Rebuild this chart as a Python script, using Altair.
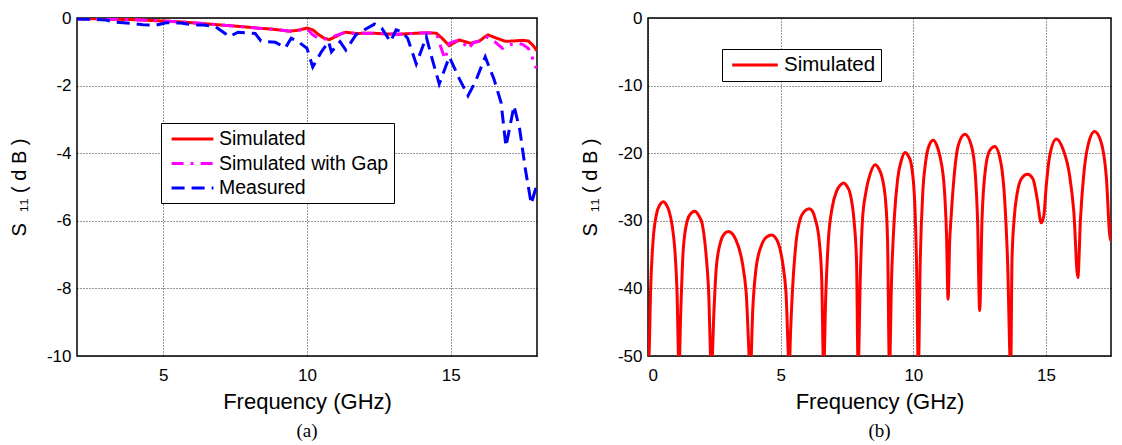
import altair as alt
import pandas as pd

# ---------------- Panel (a) data ----------------
sim_f = [2.0, 2.5, 3.0, 3.5, 4.0, 4.5, 5.0, 5.5, 6.0, 6.6, 7.2, 7.8, 8.3, 8.8, 9.4, 9.7,
         10.0, 10.2, 10.4, 10.6, 10.77, 11.0, 11.2, 11.35, 11.7, 12.0, 12.3, 12.75, 13.2,
         13.8, 14.2, 14.5, 14.7, 14.95, 15.15, 15.3, 15.5, 15.7, 16.0, 16.2, 16.3, 16.6,
         16.9, 17.2, 17.5, 17.7, 17.85, 18.0]
sim_v = [-0.02, -0.02, -0.03, -0.04, -0.05, -0.07, -0.09, -0.11, -0.14, -0.18, -0.22, -0.26,
         -0.3, -0.33, -0.39, -0.36, -0.3, -0.35, -0.49, -0.6, -0.64, -0.55, -0.46, -0.42,
         -0.46, -0.45, -0.45, -0.47, -0.48, -0.45, -0.44, -0.45, -0.6, -0.82, -0.72, -0.65,
         -0.7, -0.75, -0.68, -0.55, -0.5, -0.6, -0.69, -0.68, -0.66, -0.68, -0.8, -0.97]

gap_f = [2.0, 2.5, 3.0, 3.5, 4.0, 4.5, 5.0, 5.5, 6.0, 6.6, 7.2, 7.8, 8.3, 8.8, 9.4, 9.7,
         10.0, 10.2, 10.4, 10.6, 10.77, 11.0, 11.35, 11.7, 12.0, 12.3, 12.75, 13.2, 13.8,
         14.2, 14.5, 14.65, 14.8, 14.95, 15.1, 15.3, 15.5, 15.6, 15.8, 16.0, 16.25, 16.5,
         16.8, 17.0, 17.3, 17.5, 17.7, 17.85, 17.95, 18.0]
gap_v = [-0.02, -0.02, -0.03, -0.04, -0.05, -0.07, -0.09, -0.11, -0.14, -0.18, -0.22, -0.26,
         -0.3, -0.33, -0.39, -0.36, -0.32, -0.5, -0.6, -0.62, -0.6, -0.52, -0.42, -0.46,
         -0.45, -0.45, -0.47, -0.48, -0.45, -0.44, -0.45, -0.85, -1.22, -0.75, -0.7, -0.65,
         -0.8, -0.92, -0.72, -0.68, -0.56, -0.68, -0.9, -0.8, -0.75, -0.78, -0.9, -1.2,
         -1.45, -1.45]

meas_f = [2.0, 2.5, 3.0, 3.3, 3.9, 4.3, 4.75, 5.1, 5.6, 6.0, 6.4, 6.8, 7.3, 7.6, 8.2, 8.4,
          8.9, 9.25, 9.45, 9.7, 10.0, 10.2, 10.5, 10.75, 10.85, 11.15, 11.35, 11.7, 12.0,
          12.35, 12.6, 12.9, 13.1, 13.3, 13.5, 13.8, 14.15, 14.35, 14.6, 14.95, 15.3, 15.6,
          15.85, 16.2, 16.5, 16.75, 16.92, 17.2, 17.4, 17.6, 17.8, 17.95, 18.0]
meas_v = [-0.03, -0.04, -0.06, -0.12, -0.16, -0.2, -0.21, -0.14, -0.15, -0.2, -0.21, -0.25,
          -0.55, -0.42, -0.46, -0.68, -0.72, -0.88, -0.6, -0.7, -0.9, -1.45, -1.0, -0.7,
          -1.0, -0.7, -0.95, -0.5, -0.35, -0.18, -0.3, -0.7, -0.35, -0.4, -0.6, -1.36,
          -0.56, -1.2, -1.95, -1.15, -1.8, -2.3, -1.9, -1.15, -1.8, -2.5, -3.8, -2.6, -3.3,
          -4.5, -5.5, -5.06, -5.05]

series_names = ["Simulated", "Simulated with Gap", "Measured"]
series_colors = ["#ff0000", "#ff00ff", "#0000ff"]
series_dash = [[1, 0], [12, 7, 3, 7], [13, 7]]

# ---------------- Panel (b) data ----------------
b_f = [0.0, 0.04, 0.1, 0.19, 0.31, 0.45, 0.58, 0.7, 0.79, 0.91, 1.01, 1.09, 1.17,
       1.23, 1.33, 1.48, 1.62, 1.77, 1.92, 2.04, 2.17, 2.28, 2.39,
       2.49, 2.57, 2.73, 2.88, 3.02, 3.17, 3.3, 3.55, 3.7, 3.86,
       3.95, 4.07, 4.27, 4.47, 4.67, 4.8, 4.92, 5.07, 5.2, 5.33,
       5.36, 5.45, 5.58, 5.74, 5.9, 6.08, 6.2, 6.3, 6.46, 6.55, 6.62,
       6.7, 6.8, 6.93, 7.12, 7.25, 7.37, 7.5, 7.62, 7.77, 7.86, 7.92,
       8.0, 8.08, 8.21, 8.37, 8.56, 8.7, 8.81, 8.96, 9.03, 9.1,
       9.18, 9.29, 9.41, 9.56, 9.69, 9.81, 9.91, 10.04, 10.12, 10.19,
       10.26, 10.35, 10.46, 10.6, 10.75, 10.88, 11.0, 11.17, 11.25, 11.31,
       11.37, 11.42, 11.54, 11.69, 11.94, 12.19, 12.34, 12.42, 12.5,
       12.59, 12.72, 12.88, 13.07, 13.3, 13.45, 13.55, 13.67,
       13.72, 13.8, 13.92, 14.07, 14.3, 14.51, 14.67, 14.82, 14.92, 15.01, 15.14,
       15.39, 15.64, 15.89, 16.05, 16.2, 16.3, 16.42, 16.58, 16.83, 17.08, 17.27,
       17.43, 17.56, 17.68, 17.77]
b_v = [-52, -50, -40, -33, -29.2, -27.6, -27.2, -27.7, -28.5, -30.7, -34.2, -40, -52,
       -44, -34.2, -30, -28.9, -28.6, -29.3, -30.4, -34.2, -40, -52,
       -43, -37.1, -33.2, -31.9, -31.6, -31.9, -32.7, -36.1, -40.6, -52,
       -43, -37.1, -33.7, -32.4, -32.1, -32.5, -33.4, -36.1, -40.6, -52,
       -48, -40, -33.2, -29.7, -28.6, -28.2, -28.6, -29.7, -33.2, -39, -52,
       -41, -32.7, -28.3, -25.5, -24.7, -24.4, -24.9, -26, -30.2, -36.1, -52,
       -38.6, -30.1, -25.8, -23.1, -21.7, -22.3, -23.4, -27.3, -33.2, -52,
       -38.6, -29.2, -23.8, -20.9, -19.9, -20.4, -21.4, -26.3, -36.1, -52,
       -36.1, -26.3, -21.4, -18.8, -18.1, -18.8, -20.4, -25.3, -32, -41.6,
       -33, -29.7, -23.3, -18.9, -17.2, -18.9, -23.3, -29.7, -43.3,
       -29.7, -22.3, -19.6, -19.0, -21.4, -27.3, -35.7, -52,
       -35.7, -29.7, -25.8, -23.8, -23.1, -23.8, -26.8, -30.3, -29.2, -24.8, -20.4,
       -17.9, -19.4, -23.3, -28.7, -38.4, -29.7, -23.3, -18.9, -16.8, -18.4, -23.3,
       -32.9, -24.8, -18.9, -16.4]

# ---------------- Tables ----------------
rows = []
for name, fs, vs in zip(series_names, [sim_f, gap_f, meas_f], [sim_v, gap_v, meas_v]):
    for i, (f, v) in enumerate(zip(fs, vs)):
        rows.append({"f": f, "v": v, "series": name, "i": i})
df_a = pd.DataFrame(rows)
df_b = pd.DataFrame({"f": b_f, "v": b_v, "series": "Simulated", "i": list(range(len(b_f)))})

FONT = "Liberation Sans"
NB = "\u00a0"
YTITLE = "S" + NB + NB + "₁₁" + NB + "(" + NB + "d" + NB + "B" + NB + ")"

legend_base = dict(
    orient="none", title=None, fillColor="white", strokeColor="black",
    padding=5, labelFont=FONT, labelColor="black", labelLimit=0,
    symbolSize=361, symbolStrokeWidth=3,
)
legend_a = dict(legend_base, labelFontSize=19.5, symbolType="M-2.2,0H2.2",
                symbolOffset=15.5, labelOffset=15.5, rowPadding=3.5)
legend_b = dict(legend_base, labelFontSize=20.5, symbolType="M-2.4,0H2.4",
                symbolOffset=17, labelOffset=18)

left = alt.Chart(df_a).mark_line(strokeWidth=3, clip=True).encode(
    x=alt.X("f:Q", scale=alt.Scale(domain=[2, 18], nice=False, zero=False),
            axis=alt.Axis(values=[5, 10, 15], title="Frequency (GHz)")),
    y=alt.Y("v:Q", scale=alt.Scale(domain=[-10, 0], nice=False),
            axis=alt.Axis(values=[0, -2, -4, -6, -8, -10], title=YTITLE,
                          labelExpr="toString(datum.value)")),
    color=alt.Color("series:N", sort=series_names,
                    scale=alt.Scale(domain=series_names, range=series_colors),
                    legend=alt.Legend(legendX=84, legendY=105, **legend_a)),
    strokeDash=alt.StrokeDash("series:N", sort=series_names,
                              scale=alt.Scale(domain=series_names, range=series_dash),
                              legend=alt.Legend(legendX=84, legendY=105, **legend_a)),
    order=alt.Order("i:Q"),
).properties(width=460, height=338,
             title=alt.TitleParams("(a)", orient="bottom"))

right = alt.Chart(df_b).mark_line(strokeWidth=3, clip=True, interpolate="monotone").encode(
    x=alt.X("f:Q", scale=alt.Scale(domain=[0, 17.45], nice=False, zero=False),
            axis=alt.Axis(values=[0, 5, 10, 15], title="Frequency (GHz)")),
    y=alt.Y("v:Q", scale=alt.Scale(domain=[-50, 0], nice=False),
            axis=alt.Axis(values=[0, -10, -20, -30, -40, -50], title=YTITLE,
                          labelExpr="toString(datum.value)")),
    color=alt.Color("series:N", scale=alt.Scale(domain=["Simulated"], range=["#ff0000"]),
                    legend=alt.Legend(legendX=74, legendY=31, **legend_b)),
    order=alt.Order("i:Q"),
).properties(width=463, height=338,
             title=alt.TitleParams("(b)", orient="bottom"))

chart = alt.hconcat(left, right, spacing=41).resolve_scale(
    color="independent", strokeDash="independent"
).properties(
    padding={"left": 0, "top": 0, "right": 0, "bottom": 0}
).configure_view(
    stroke="black", strokeWidth=1.5
).configure_axis(
    labelFont=FONT, titleFont=FONT, labelColor="black", titleColor="black",
    titleFontWeight="normal", labelFontSize=17, titleFontSize=20,
    grid=True, gridColor="black", gridDash=[1, 2], gridOpacity=0.8, gridWidth=1,
    domain=False, ticks=False,
).configure_axisY(
    labelPadding=6, titlePadding=18, minExtent=30, maxExtent=30,
).configure_axisX(
    labelPadding=11, titlePadding=8, titleFontSize=22,
).configure_legend(
    strokeWidth=1,
).configure_title(
    font="Liberation Serif", fontSize=19, fontWeight="normal", color="black", offset=10,
)

chart.save("out.html", embed_options={"renderer": "svg", "actions": False})
